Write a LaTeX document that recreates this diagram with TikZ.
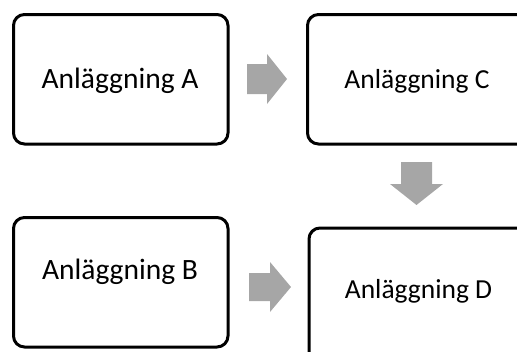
\documentclass[tikz,border=0pt]{standalone}
\usepackage{fontspec}
\setmainfont{Carlito}
\begin{document}
\begin{tikzpicture}[x=1pt,y=-1pt,
  boxstyle/.style={draw=black, line width=3pt, rounded corners=11pt},
  labelstyle/.style={inner sep=0pt, anchor=base, font=\fontsize{29.5}{32}\selectfont},
  labelsmall/.style={inner sep=0pt, anchor=base, font=\fontsize{27.5}{30}\selectfont},
  blockarrow/.style={fill=arrowgray, draw=none}]
\definecolor{arrowgray}{HTML}{A6A6A6}
\useasboundingbox (0,0) rectangle (517,351);
\clip (0,0) rectangle (517,351);
% boxes
\draw[boxstyle] (13.5,14.5) rectangle (228,144);
\draw[boxstyle] (307.5,14.5) rectangle (529,144);
\draw[boxstyle] (13.5,217.5) rectangle (228,347);
\draw[boxstyle] (309,228) rectangle (531,362);
% labels
\node[labelstyle] (ta) at (120,88) {Anläggning A};
\node[labelsmall] (tc) at (417,88) {Anläggning C};
\node[labelstyle] (tb) at (120,279) {Anläggning B};
\node[labelsmall] (td) at (418.5,298) {Anläggning D};
% block arrows
\fill[blockarrow] (247,64) -- (267,64) -- (267,54) -- (287,79) -- (267,104) -- (267,94) -- (247,94) -- cycle;
\fill[blockarrow] (401,162) -- (432,162) -- (432,184) -- (443,184) -- (416.5,205) -- (390,184) -- (401,184) -- cycle;
\fill[blockarrow] (249,273) -- (270,273) -- (270,262) -- (291,287) -- (270,312) -- (270,301) -- (249,301) -- cycle;
\end{tikzpicture}
\end{document}
